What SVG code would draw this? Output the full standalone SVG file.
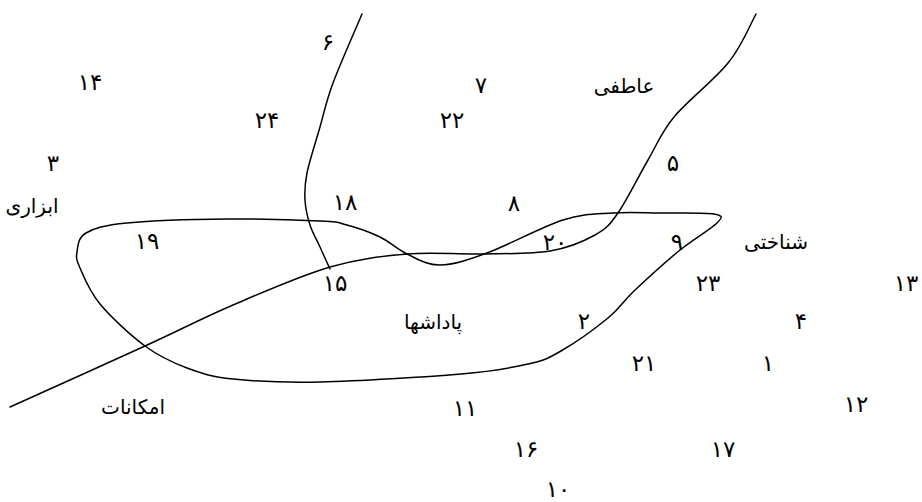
<svg xmlns="http://www.w3.org/2000/svg" width="922" height="502" viewBox="0 0 922 502">
<style>
.c{fill:none;stroke:#000;stroke-width:1.5;stroke-linecap:round;stroke-linejoin:round}
text{font-family:"DejaVu Sans","Noto Sans",sans-serif;font-size:23px;fill:#000;text-anchor:middle;dominant-baseline:central}
text.w{font-size:20px}
</style>
<rect width="922" height="502" fill="#fff"/>
<g id="connectors">
<path class="c" d="M362,14 C357.2,25.5 340,64.2 333,83 C326,101.8 324.3,112 320,127 C315.7,142 309.5,160.8 307,173 C304.5,185.2 304.5,191.3 305,200 C305.5,208.7 307.5,217.2 310,225 C312.5,232.8 316.7,239.7 320,247 C323.3,254.3 328.3,265.3 330,269"/>
<path class="c" d="M10,407 C32.5,396.8 107.8,363 145,346 C182.2,329 202.2,318.2 233,305 C263.8,291.8 301,275.5 330,267 C359,258.5 382,256.2 407,254 C432,251.8 456.2,254.5 480,254 C503.8,253.5 530.8,254.2 550,251 C569.2,247.8 583.7,241.3 595,235 C606.3,228.7 609.2,225.5 618,213 C626.8,200.5 638.7,176 648,160 C657.3,144 660.7,133.2 674,117 C687.3,100.8 714.3,80.2 728,63 C741.7,46.8 751.3,22.2 756,14"/>
<path class="c" d="M77,252 C78,246.2 77.7,237.8 86,233 C94.3,228.2 103.5,225.3 127,223 C150.5,220.7 194.8,219.3 227,219 C259.2,218.7 300,220 320,221 C340,222 337,222.3 347,225 C357,227.7 370,232.2 380,237 C390,241.8 397,249.3 407,254 C417,258.7 426.7,265.2 440,265 C453.3,264.8 466.5,260.5 487,253 C507.5,245.5 542,226.7 563,220 C584,213.3 596.8,214.2 613,213 C629.2,211.8 643.2,212.8 660,213 C676.8,213.2 704.5,212.3 714,214 C723.5,215.7 722.7,217 717,223 C711.3,229 693.8,238.7 680,250 C666.2,261.3 646,279.7 634,291 C622,302.3 620.2,308 608,318 C595.8,328 574.3,343.3 561,351 C547.7,358.7 544.7,360.2 528,364 C511.3,367.8 495.7,371 461,374 C426.3,377 358,381.2 320,382 C282,382.8 255.2,381.3 233,379 C210.8,376.7 201.7,373.5 187,368 C172.3,362.5 159.5,356.7 145,346 C130.5,335.3 110.8,317 100,304 C89.2,291 83.8,276.7 80,268 C76.2,259.3 76,257.8 77,252 Z"/>
</g>
<g id="n6"><text x="328" y="42">۶</text></g>
<g id="n14"><text x="90" y="82">۱۴</text></g>
<g id="n7"><text x="481" y="85">۷</text></g>
<g id="emotional"><text class="w" x="624" y="86">عاطفی</text></g>
<g id="n24"><text x="267" y="120">۲۴</text></g>
<g id="n22"><text x="452" y="120">۲۲</text></g>
<g id="n3"><text x="53" y="163">۳</text></g>
<g id="n5"><text x="673" y="163">۵</text></g>
<g id="tools"><text class="w" x="32" y="206">ابزاری</text></g>
<g id="n18"><text x="345" y="202">۱۸</text></g>
<g id="n8"><text x="514" y="203">۸</text></g>
<g id="n19"><text x="147" y="241">۱۹</text></g>
<g id="n20"><text x="555" y="242">۲۰</text></g>
<g id="n9"><text x="677" y="242">۹</text></g>
<g id="cognitive"><text class="w" x="776" y="242">شناختی</text></g>
<g id="n15"><text x="335" y="283">۱۵</text></g>
<g id="n23"><text x="708" y="283">۲۳</text></g>
<g id="n13"><text x="906" y="283">۱۳</text></g>
<g id="rewards"><text class="w" x="433" y="322">پاداشها</text></g>
<g id="n2"><text x="584" y="321">۲</text></g>
<g id="n4"><text x="801" y="321">۴</text></g>
<g id="n21"><text x="644" y="363">۲۱</text></g>
<g id="n1"><text x="768" y="363">۱</text></g>
<g id="facilities"><text class="w" x="133" y="407">امکانات</text></g>
<g id="n11"><text x="465" y="408">۱۱</text></g>
<g id="n12"><text x="856" y="404">۱۲</text></g>
<g id="n16"><text x="526" y="449">۱۶</text></g>
<g id="n17"><text x="723" y="449">۱۷</text></g>
<g id="n10"><text x="558" y="489">۱۰</text></g>
</svg>
